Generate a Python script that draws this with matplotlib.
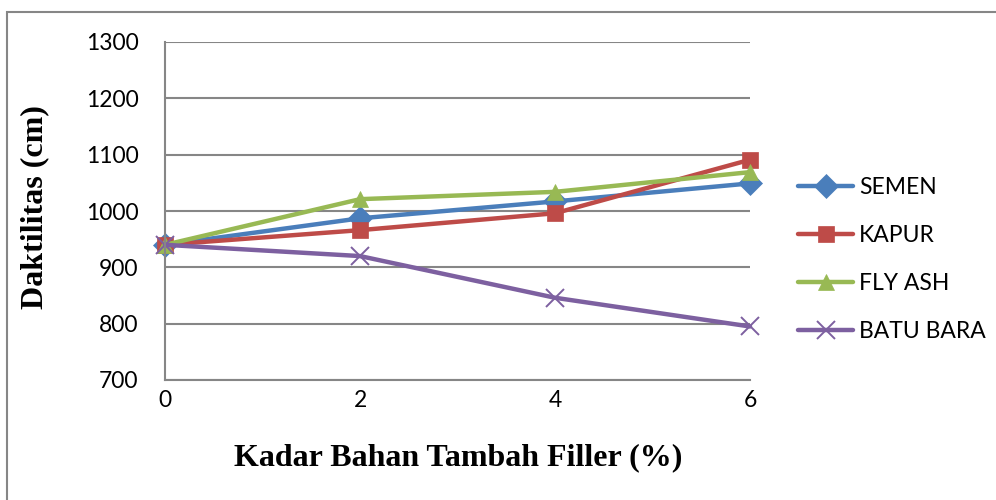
import matplotlib

matplotlib.use("Agg")
import matplotlib.pyplot as plt
from matplotlib.patches import Rectangle

# data
kadar = [0, 2, 4, 6]
semen = [940, 987, 1017, 1049]
kapur = [940, 966, 996, 1091]
fly_ash = [940, 1021, 1034, 1069]
batu_bara = [940, 920, 846, 795]

series = [
    ("SEMEN", semen, "#4A7EBB", "D"),
    ("KAPUR", kapur, "#BE4B48", "s"),
    ("FLY ASH", fly_ash, "#98B954", "^"),
    ("BATU BARA", batu_bara, "#7D60A0", "x"),
]

W, H = 996, 500
fig = plt.figure(figsize=(W / 100, H / 100), dpi=100)
ax = fig.add_axes([165 / W, 1 - 380 / H, (750 - 165) / W, (380 - 42) / H])

for label, values, color, marker in series:
    size = 12 if marker != "x" else 13
    ax.plot(kadar, values, color=color, linewidth=3.2, marker=marker,
            markersize=size, markeredgewidth=1.4 if marker == "x" else 0.5,
            markeredgecolor=color, markerfacecolor=color, label=label,
            solid_capstyle="round", clip_on=False)

ax.set_xlim(0, 6)
ax.set_ylim(700, 1300)
ax.set_xticks(kadar)
ax.set_yticks(range(700, 1301, 100))
ax.grid(axis="y", color="#868686", linewidth=1.5)
ax.set_axisbelow(True)
for side in ["top", "right"]:
    ax.spines[side].set_visible(False)
for side in ["left", "bottom"]:
    ax.spines[side].set_color("#868686")
    ax.spines[side].set_linewidth(1.5)
ax.tick_params(length=0, labelsize=16.5)
for lab in ax.get_xticklabels() + ax.get_yticklabels():
    lab.set_fontfamily("Lato")
ax.tick_params(axis="y", pad=19)
ax.tick_params(axis="x", pad=7)

fig.text(458 / W, 1 - 458 / H, "Kadar Bahan Tambah Filler (%)", ha="center", va="center",
         fontsize=23, fontweight="bold", family="Liberation Serif")
fig.text(35 / W, 1 - 207 / H, "Daktilitas (cm)", ha="center", va="center", rotation=90,
         fontsize=23, fontweight="bold", family="Liberation Serif")

leg = fig.legend(loc="upper left", bbox_to_anchor=(789 / W, 1 - 168 / H), frameon=False,
                 prop={"family": "Lato", "size": 16.5}, handlelength=2.4,
                 handletextpad=0.25, labelspacing=1.18, borderaxespad=0)

fig.add_artist(Rectangle((7 / W, -0.1), 1.2, 1 - 12 / H + 0.1, transform=fig.transFigure,
                         fill=False, edgecolor="#868686", linewidth=1.5))

fig.savefig("out.png", dpi=100)
